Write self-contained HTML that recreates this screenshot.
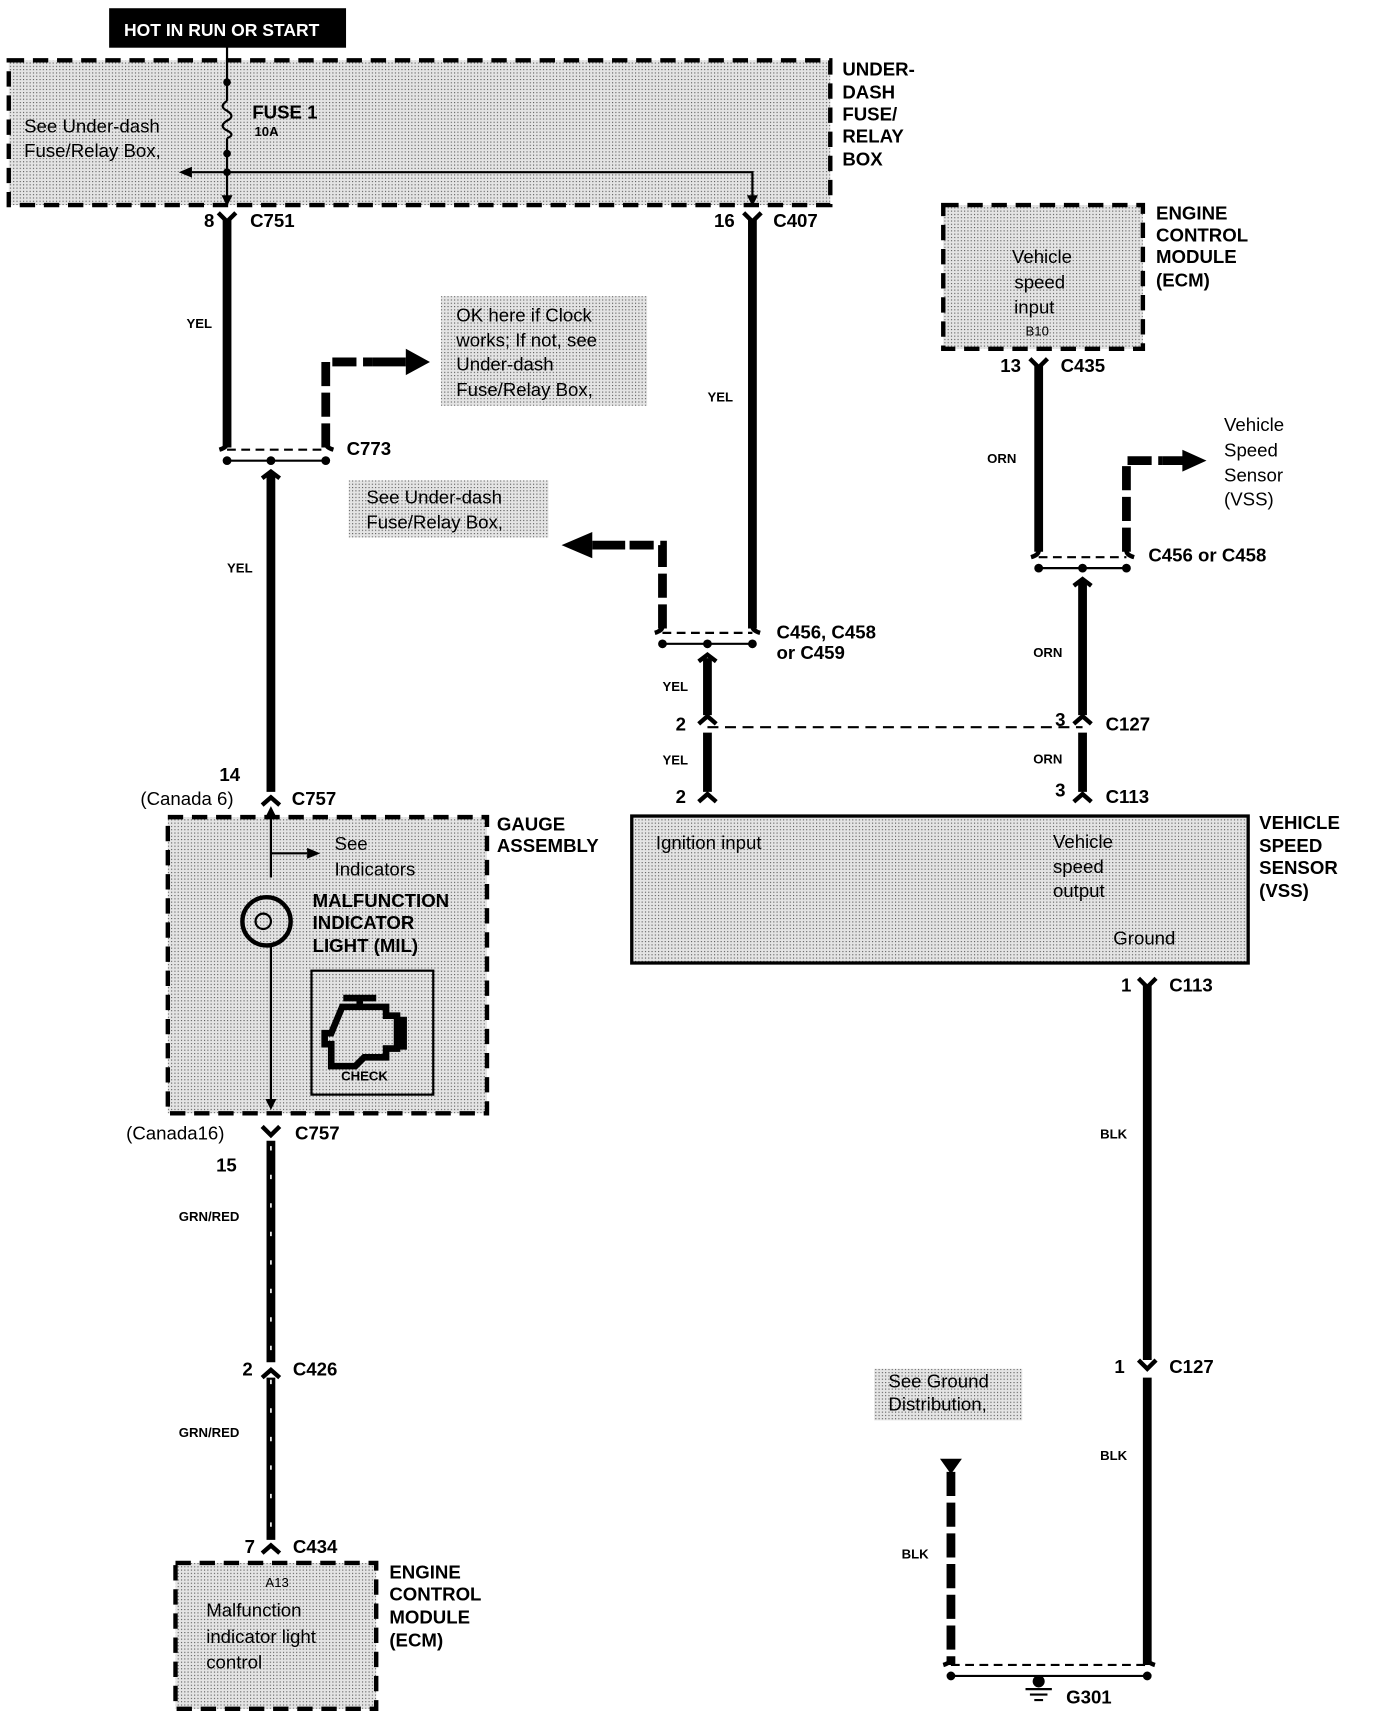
<!DOCTYPE html>
<html><head><meta charset="utf-8"><style>
html,body{margin:0;padding:0;background:#fff}
svg{display:block}
text{font-family:"Liberation Sans",sans-serif;fill:#000}
.b{font-weight:bold;font-size:17px}
.n{font-size:17px}
.s{font-weight:bold;font-size:12px}
</style></head><body>
<svg width="1376" height="1722" viewBox="0 0 1254 1570" preserveAspectRatio="xMinYMin meet" xmlns="http://www.w3.org/2000/svg">
<defs>
<pattern id="dot" width="3" height="3" patternUnits="userSpaceOnUse"><rect width="3" height="3" fill="#e4e4e4"/><rect width="1" height="1" fill="#555"/></pattern>
</defs>
<g fill="none" stroke="#000">
<rect x="100" y="8" width="215" height="35" fill="#000"/>
<rect x="8" y="55" width="749" height="132" fill="url(#dot)" stroke-width="4" stroke-dasharray="14,8"/>
<rect x="860" y="187" width="182" height="131" fill="url(#dot)" stroke-width="4" stroke-dasharray="14,8"/>
<rect x="402" y="270" width="188" height="100" fill="url(#dot)" stroke="none"/>
<rect x="318" y="438" width="182" height="52" fill="url(#dot)" stroke="none"/>
<rect x="797" y="1248" width="135" height="47" fill="url(#dot)" stroke="none"/>
<rect x="153" y="745" width="291" height="270" fill="url(#dot)" stroke-width="4" stroke-dasharray="14,8"/>
<rect x="284" y="885" width="111" height="113" stroke-width="2"/>
<rect x="576" y="744" width="562" height="134" fill="url(#dot)" stroke-width="3"/>
<rect x="160" y="1425" width="183" height="133" fill="url(#dot)" stroke-width="4" stroke-dasharray="14,8"/>

<path d="M207 43V92 M207 126V183 M207 92 q-8 5 0 9 q8 5 0 9 q-8 5 0 9 q8 4 0 7" stroke-width="2"/>
<circle cx="207" cy="75" r="3" fill="#000"/><circle cx="207" cy="140" r="3" fill="#000"/><circle cx="207" cy="157" r="3" fill="#000"/>
<path d="M175 157H686V183" stroke-width="2"/>
<path d="M163 157l12-5v10z M207 188l-5-10h10z M686 188l-5-10h10z" fill="#000" stroke="none"/>

<g stroke-width="8">
<path d="M207 200V408"/>
<path d="M247 432V722"/>
<path d="M686 200V573"/>
<path d="M645 600V652 M645 668V722"/>
<path d="M947 333V503"/>
<path d="M987 530V652 M987 668V722"/>
<path d="M1046 898V1240 M1046 1256V1518"/>
<path d="M247 1040V1242 M247 1256V1404"/>
</g>
<path d="M247 1045V1240 M247 1258V1400" stroke="#fff" stroke-width="1.5" stroke-dasharray="4,22"/>
<g stroke-width="8" stroke-dasharray="22,6">
<path d="M297 408V330H340"/>
<path d="M604 573V497H570"/>
<path d="M1027 503V420H1060"/>
<path d="M867 1342V1518"/>
</g>
<path d="M340 330H370 M570 497H540 M1060 420H1080" stroke-width="8"/>
<path d="M370 318l22 12-22 12z M540 485l-28 12 28 12z M1078 410l22 10-22 10z M857 1330h20l-10 14z" fill="#000" stroke="none"/>

<g stroke-width="2">
<path d="M207 410H297" stroke-dasharray="8,5"/><path d="M207 420H297"/>
<path d="M604 577H686" stroke-dasharray="8,5"/><path d="M604 587H686"/>
<path d="M947 508H1027" stroke-dasharray="8,5"/><path d="M947 518H1027"/>
<path d="M867 1518H1046" stroke-dasharray="8,5"/><path d="M867 1528H1046"/>
<path d="M645 663H987" stroke-dasharray="10,6"/>
</g>
<g fill="#000" stroke="none">
<circle cx="207" cy="420" r="4"/><circle cx="247" cy="420" r="4"/><circle cx="297" cy="420" r="4"/>
<circle cx="604" cy="587" r="4"/><circle cx="645" cy="587" r="4"/><circle cx="686" cy="587" r="4"/>
<circle cx="947" cy="518" r="4"/><circle cx="987" cy="518" r="4"/><circle cx="1027" cy="518" r="4"/>
<circle cx="867" cy="1528" r="4"/><circle cx="1046" cy="1528" r="4"/>
</g>
<g stroke-width="4">
<path d="M199 194l8 8 8-8 M678 194l8 8 8-8 M939 327l8 8 8-8 M1038 892l8 8 8-8 M239 1027l8 8 8-8 M1038 1240l8 8 8-8"/>
<path d="M200 410q7-2 7-6 M304 410q-7-2-7-6 M239 436l8-6 8 6 M597 577q7-2 7-6 M693 577q-7-2-7-6 M637 603l8-6 8 6 M940 508q7-2 7-6 M1034 508q-7-2-7-6 M979 534l8-6 8 6 M860 1518q7-2 7-6 M1053 1518q-7-2-7-6"/>
<path d="M637 660l8-7 8 7 M637 731l8-7 8 7 M979 660l8-7 8 7 M979 731l8-7 8 7 M239 734l8-7 8 7 M239 1256l8-7 8 7 M239 1416l8-7 8 7"/>
</g>
<path d="M947 1528V1538 M935 1540H959 M939 1545H955 M943 1550H951" stroke-width="2"/>
<circle cx="947" cy="1533" r="5" fill="#000"/>

<path d="M247 738V800 M247 862V1005 M247 778H280" stroke-width="2"/>
<path d="M247 735l-5 10h10z M292 778l-12-5v10z M247 1012l-5-10h10z" fill="#000" stroke="none"/>
<circle cx="243" cy="840" r="22" stroke-width="4"/>
<circle cx="240" cy="840" r="7" stroke-width="2"/>
<path d="M313 910h30 M328 910v8 M312 918h40v8h10v30h-10v8h-20l-8 8h-22v-20h-6v-10h6z M362 930h6v24h-6" stroke-width="6"/>
</g>

<text x="113" y="33" style="font-size:16px;font-weight:bold;fill:#fff">HOT IN RUN OR START</text>
<text x="230" y="108" class="b">FUSE 1</text>
<text x="232" y="124" class="s">10A</text>
<text x="22" y="121" class="n">See Under-dash</text>
<text x="22" y="143" class="n">Fuse/Relay Box,</text>
<text class="b"><tspan x="768" y="69">UNDER-</tspan><tspan x="768" y="90">DASH</tspan><tspan x="768" y="110">FUSE/</tspan><tspan x="768" y="130">RELAY</tspan><tspan x="768" y="151">BOX</tspan></text>
<text x="186" y="207" class="b">8</text><text x="228" y="207" class="b">C751</text>
<text x="651" y="207" class="b">16</text><text x="705" y="207" class="b">C407</text>
<text x="170" y="299" class="s">YEL</text>
<text x="207" y="522" class="s">YEL</text>
<text x="645" y="366" class="s">YEL</text>
<text class="n"><tspan x="416" y="293">OK here if Clock</tspan><tspan x="416" y="316">works; If not, see</tspan><tspan x="416" y="338">Under-dash</tspan><tspan x="416" y="361">Fuse/Relay Box,</tspan></text>
<text x="316" y="415" class="b">C773</text>
<text class="n"><tspan x="334" y="459">See Under-dash</tspan><tspan x="334" y="482">Fuse/Relay Box,</tspan></text>
<text class="b"><tspan x="708" y="582">C456, C458</tspan><tspan x="708" y="601">or C459</tspan></text>
<text class="n" text-anchor="middle"><tspan x="950" y="240">Vehicle</tspan><tspan x="948" y="263">speed</tspan><tspan x="943" y="286">input</tspan></text>
<text x="935" y="306" class="s" style="font-weight:normal">B10</text>
<text class="b"><tspan x="1054" y="200">ENGINE</tspan><tspan x="1054" y="220">CONTROL</tspan><tspan x="1054" y="240">MODULE</tspan><tspan x="1054" y="261">(ECM)</tspan></text>
<text x="912" y="339" class="b">13</text><text x="967" y="339" class="b">C435</text>
<text x="900" y="422" class="s">ORN</text>
<text class="n"><tspan x="1116" y="393">Vehicle</tspan><tspan x="1116" y="416">Speed</tspan><tspan x="1116" y="439">Sensor</tspan><tspan x="1116" y="461">(VSS)</tspan></text>
<text x="1047" y="512" class="b">C456 or C458</text>
<text x="942" y="599" class="s">ORN</text>
<text x="604" y="630" class="s">YEL</text><text x="604" y="697" class="s">YEL</text>
<text x="616" y="666" class="b">2</text><text x="616" y="732" class="b">2</text>
<text x="962" y="662" class="b">3</text><text x="962" y="726" class="b">3</text>
<text x="942" y="696" class="s">ORN</text>
<text x="1008" y="666" class="b">C127</text><text x="1008" y="732" class="b">C113</text>
<text x="200" y="712" class="b">14</text>
<text x="128" y="734" class="n">(Canada 6)</text><text x="266" y="734" class="b">C757</text>
<text class="b"><tspan x="453" y="757">GAUGE</tspan><tspan x="453" y="777">ASSEMBLY</tspan></text>
<text class="n"><tspan x="305" y="775">See</tspan><tspan x="305" y="798">Indicators</tspan></text>
<text class="b"><tspan x="285" y="827">MALFUNCTION</tspan><tspan x="285" y="847">INDICATOR</tspan><tspan x="285" y="868">LIGHT (MIL)</tspan></text>
<text x="311" y="985" class="s">CHECK</text>
<text class="n"><tspan x="598" y="774">Ignition input</tspan><tspan x="960" y="773">Vehicle</tspan><tspan x="960" y="796">speed</tspan><tspan x="960" y="818">output</tspan><tspan x="1015" y="861">Ground</tspan></text>
<text class="b"><tspan x="1148" y="756">VEHICLE</tspan><tspan x="1148" y="777">SPEED</tspan><tspan x="1148" y="797">SENSOR</tspan><tspan x="1148" y="818">(VSS)</tspan></text>
<text x="1022" y="904" class="b">1</text><text x="1066" y="904" class="b">C113</text>
<text x="1003" y="1038" class="s">BLK</text>
<text x="1016" y="1252" class="b">1</text><text x="1066" y="1252" class="b">C127</text>
<text x="1003" y="1331" class="s">BLK</text>
<text class="n"><tspan x="810" y="1265">See Ground</tspan><tspan x="810" y="1286">Distribution,</tspan></text>
<text x="822" y="1421" class="s">BLK</text>
<text x="972" y="1553" class="b">G301</text>
<text x="115" y="1039" class="n">(Canada16)</text><text x="269" y="1039" class="b">C757</text>
<text x="197" y="1068" class="b">15</text>
<text x="163" y="1113" class="s">GRN/RED</text>
<text x="221" y="1254" class="b">2</text><text x="267" y="1254" class="b">C426</text>
<text x="163" y="1310" class="s">GRN/RED</text>
<text x="223" y="1416" class="b">7</text><text x="267" y="1416" class="b">C434</text>
<text x="242" y="1447" class="s" style="font-weight:normal">A13</text>
<text class="n"><tspan x="188" y="1474">Malfunction</tspan><tspan x="188" y="1498">indicator light</tspan><tspan x="188" y="1521">control</tspan></text>
<text class="b"><tspan x="355" y="1439">ENGINE</tspan><tspan x="355" y="1459">CONTROL</tspan><tspan x="355" y="1480">MODULE</tspan><tspan x="355" y="1501">(ECM)</tspan></text>
</svg>
</body></html>
